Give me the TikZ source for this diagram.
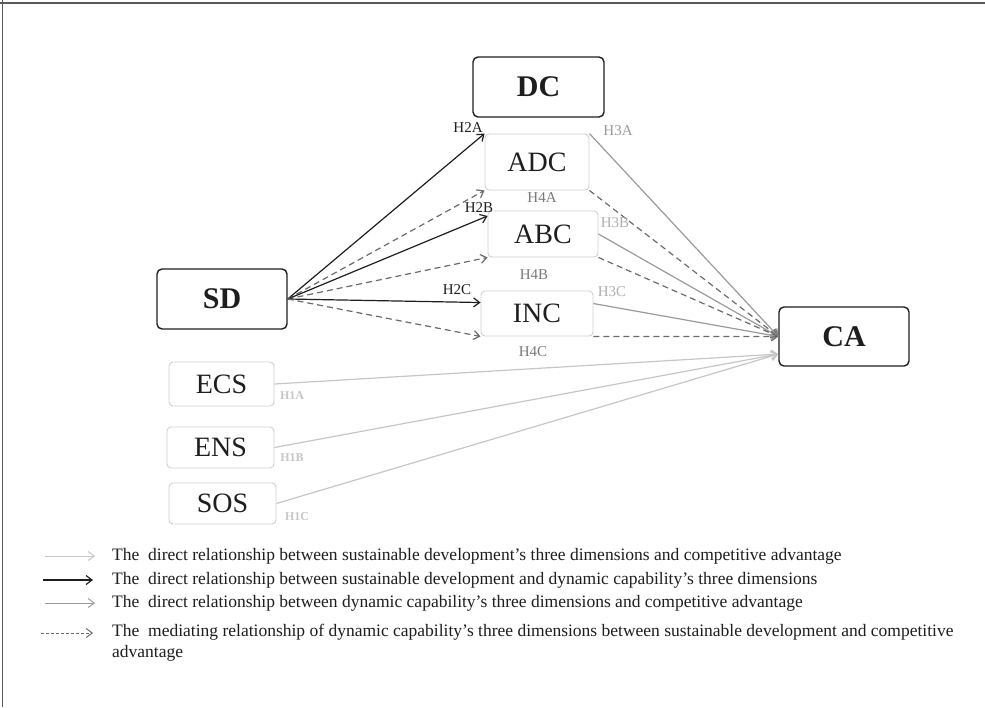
\documentclass[tikz,border=0pt]{standalone}
\usepackage{fontspec}
\setmainfont{Liberation Serif}
\usetikzlibrary{arrows.meta}
\definecolor{fgblack}{HTML}{1E1E1E}
\definecolor{fgdash}{HTML}{6A6A6A}
\definecolor{fggray}{HTML}{9A9A9A}
\definecolor{fglight}{HTML}{C6C6C6}
\definecolor{boxline}{HTML}{CFCFCF}
\definecolor{frameline}{HTML}{5A5A5A}

\begin{document}
\begin{tikzpicture}[
        x=1pt, y=-1pt,
        every node/.style={inner sep=0pt, text=fgblack},
        big/.style={
          draw=fgblack, line width=1.4pt,
          rounded corners=5pt,
          font=\fontsize{30}{30}\selectfont\bfseries,
        },
        dim/.style={
          draw=boxline, line width=0.9pt,
          rounded corners=4pt,
          font=\fontsize{28}{28}\selectfont,
        },
        sarr/.style={-{Straight Barb[length=6pt,width=9pt]}, draw=fgblack, line width=1.2pt},
        garr/.style={-{Straight Barb[length=6pt,width=9pt]}, draw=fggray, line width=1.2pt},
        darr/.style={-{Straight Barb[length=6pt,width=9pt]}, draw=fgdash, line width=1.2pt, dash pattern=on 6pt off 4pt},
        larr/.style={-{Straight Barb[length=6pt,width=9pt]}, draw=fglight, line width=1.2pt},
        hlbl/.style={font=\fontsize{15}{15}\selectfont},
        ilbl/.style={font=\fontsize{12}{12}\selectfont\bfseries, text=fglight},
        key/.style={anchor=base west, align=left, font=\fontsize{17.5}{21}\selectfont},
      ]
      \useasboundingbox (0,0) rectangle (985,707);
      \draw[frameline, line width=1.5pt] (0,3) -- (985,3);
      \draw[frameline, line width=1pt] (2,0) -- (2,707);

      \node[big, minimum width=131pt, minimum height=60pt] (dc) at (538.5,87) {DC};
      \node[big, minimum width=130pt, minimum height=60pt] (sd) at (222,299) {SD};
      \node[big, minimum width=130pt, minimum height=59pt] (ca) at (844,336.5) {CA};

      \node[dim, minimum width=104pt, minimum height=56pt] (adc) at (537,162) {ADC};
      \node[dim, minimum width=110pt, minimum height=46pt] (abc) at (543,234) {ABC};
      \node[dim, minimum width=112pt, minimum height=45pt] (inc) at (537,313.5) {INC};

      \node[dim, minimum width=105pt, minimum height=44pt] (ecs) at (221.5,384) {ECS};
      \node[dim, minimum width=107pt, minimum height=41pt] (ens) at (220.5,447.5) {ENS};
      \node[dim, minimum width=107pt, minimum height=41pt] (sos) at (222.5,503.5) {SOS};

      % SD to the three dimensions
      \draw[sarr] (sd.east) -- (adc.north west);
      \draw[darr] (sd.east) -- (adc.south west);
      \draw[sarr] (sd.east) -- (abc.162);
      \draw[darr] (sd.east) -- (abc.south west);
      \draw[sarr] (sd.east) -- (inc.169);
      \draw[darr] (sd.east) -- (inc.south west);

      % dimensions to CA
      \draw[garr] (adc.north east) -- (ca.west);
      \draw[darr] (adc.south east) -- (ca.west);
      \draw[garr] (abc.east) -- (ca.west);
      \draw[darr] (abc.south east) -- (ca.west);
      \draw[garr] (inc.10) -- (ca.west);
      \draw[darr] (inc.south east) -- (ca.west);

      \draw[larr] (ecs.east) -- (ca.195);
      \draw[larr] (ens.east) -- (ca.195);
      \draw[larr] (sos.east) -- (ca.195);

      \node[hlbl] (h2a) at (468,128) {H2A};
      \node[hlbl] (h2b) at (479,208) {H2B};
      \node[hlbl] (h2c) at (457,290) {H2C};
      \node[hlbl, text=fggray] (h3a) at (618,131) {H3A};
      \node[hlbl, text=fggray!80] (h3b) at (615,223) {H3B};
      \node[hlbl, text=fggray!80] (h3c) at (612,292) {H3C};
      \node[hlbl, text=fgdash!90] (h4a) at (542,198) {H4A};
      \node[hlbl, text=fgdash!90] (h4b) at (534,275) {H4B};
      \node[hlbl, text=fgdash!90] (h4c) at (533,352) {H4C};
      \node[ilbl] (h1a) at (292,396) {H1A};
      \node[ilbl] (h1b) at (292,458) {H1B};
      \node[ilbl] (h1c) at (297,517) {H1C};

      % legend
      \coordinate (ka) at (45,556);  \coordinate (kb) at (95,556);
      \coordinate (kc) at (43,580);  \coordinate (kd) at (93,580);
      \coordinate (ke) at (45,603);  \coordinate (kf) at (95,603);
      \coordinate (kg) at (41,633);  \coordinate (kh) at (93,633);
      \draw[larr, line width=1pt] (ka) -- (kb);
      \draw[sarr] (kc) -- (kd);
      \draw[garr, line width=1pt] (ke) -- (kf);
      \draw[darr, line width=1pt, dash pattern=on 3pt off 2pt] (kg) -- (kh);

      \node[key] (l1) at (112,560) {The\ \ direct relationship between sustainable development’s three dimensions and competitive advantage};
      \node[key] (l2) at (112,584) {The\ \ direct relationship between sustainable development and dynamic capability’s three dimensions};
      \node[key] (l3) at (112,607) {The\ \ direct relationship between dynamic capability’s three dimensions and competitive advantage};
      \node[key] (l4) at (112,657) {The\ \ mediating relationship of dynamic capability’s three dimensions between sustainable development and competitive\\advantage};
    \end{tikzpicture}
\end{document}
